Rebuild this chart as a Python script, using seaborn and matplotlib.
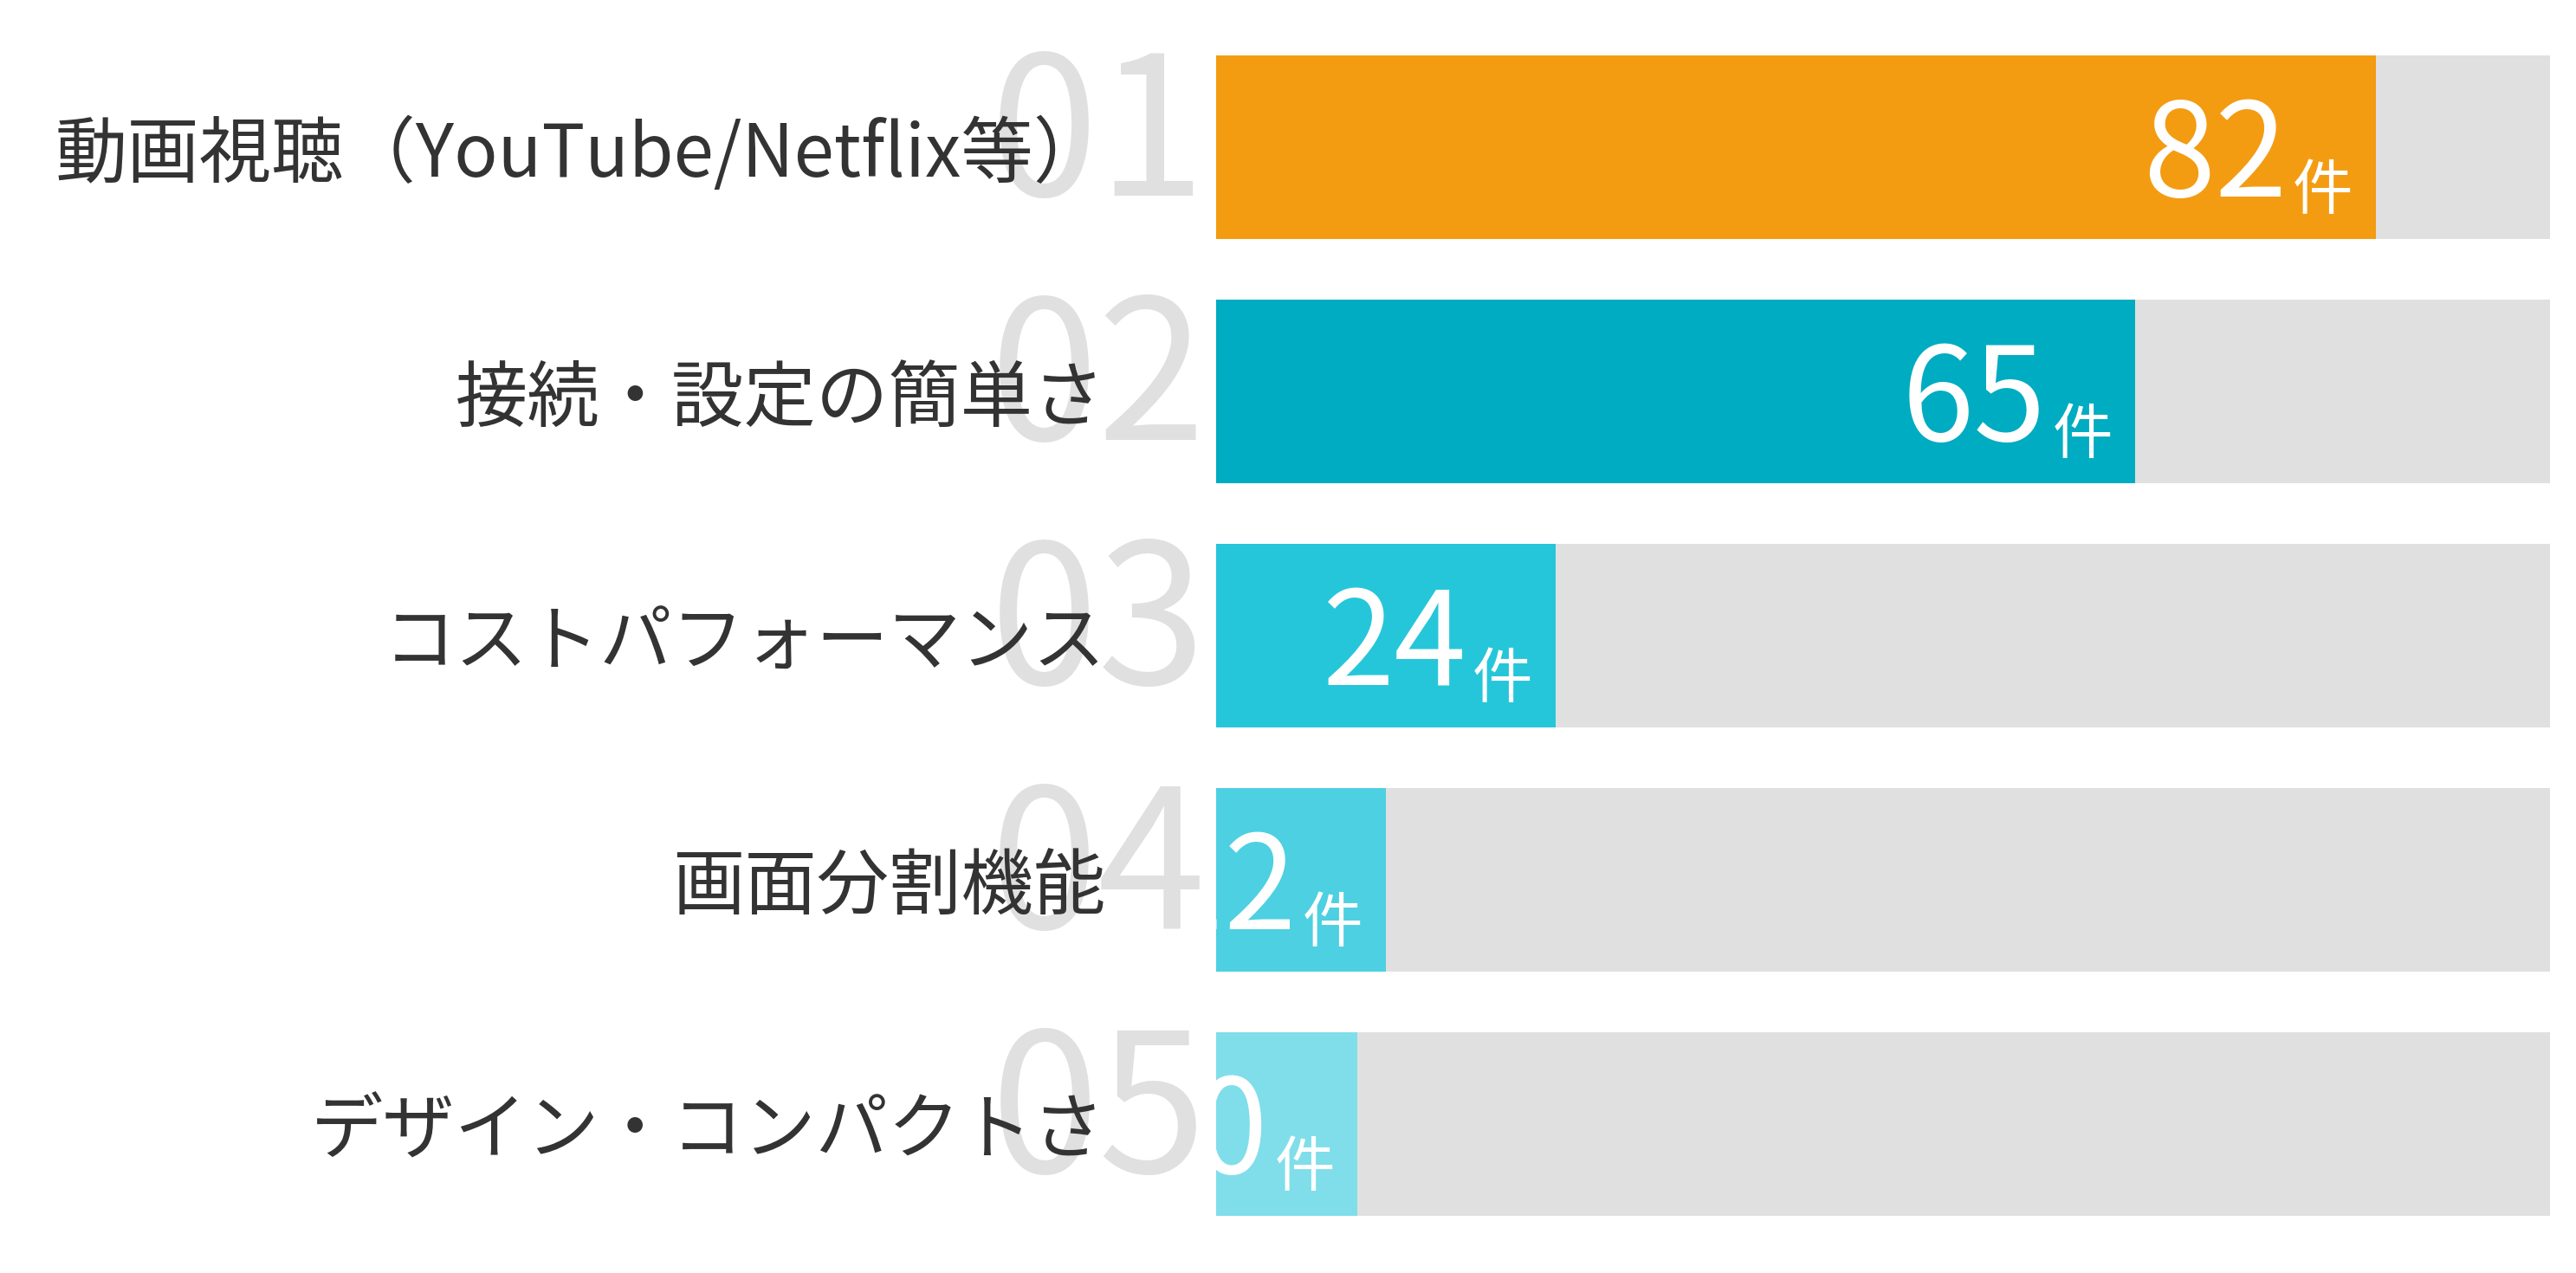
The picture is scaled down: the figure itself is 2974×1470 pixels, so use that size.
import matplotlib
matplotlib.use("Agg")
import matplotlib.pyplot as plt
import seaborn as sns
import pandas as pd

# data
categories = ['動画視聴（YouTube/Netflix等）', '接続・設定の簡単さ', 'コストパフォーマンス',
              '画面分割機能', 'デザイン・コンパクトさ']
counts = [82, 65, 24, 12, 10]
ranks = ['01', '02', '03', '04', '05']
unit = '件'
bar_colors = ['#F39C12', '#00ACC1', '#26C6DA', '#4DD0E1', '#80DEEA']

sns.set_theme(style='white')
plt.rcParams['font.family'] = ['Noto Sans CJK JP', 'DejaVu Sans']

df = pd.DataFrame({'category': categories, 'count': counts})
scale_max = max(counts) * 1.15
df['track'] = scale_max

fig = plt.figure(figsize=(14.87, 7.35), dpi=200)
ax = fig.add_axes([0.4721, 0.0211, 0.5178, 0.9592])

# gray track behind every bar, then the coloured bars
sns.barplot(data=df, x='track', y='category', color='#E0E0E0', width=0.75,
            saturation=1, linewidth=0, ax=ax)
sns.barplot(data=df, x='count', y='category', hue='category', palette=bar_colors,
            width=0.75, saturation=1, linewidth=0, legend=False, ax=ax)

ax.set_xlim(0, scale_max)
ax.set_ylim(4.5, -0.5)
ax.set_xticks([])
ax.set_xlabel('')
ax.set_ylabel('')
ax.set_axisbelow(True)
ax.tick_params(axis='y', length=0, pad=46, labelsize=30, labelcolor='#333333')
sns.despine(ax=ax, left=True, bottom=True)

# big light rank numbers behind the labels
for i, r in enumerate(ranks):
    ax.annotate(r, xy=(0, i), xycoords=ax.get_yaxis_transform(),
                xytext=(-4, -20), textcoords='offset points',
                ha='right', va='baseline', fontsize=81,
                color='#E0E0E0', zorder=0.2, annotation_clip=False)

# value labels inside the bar end, clipped to the plot area
for i, v in enumerate(counts):
    ax.annotate(str(v), xy=(v, i), xytext=(-37, -20.5), textcoords='offset points',
                ha='right', va='baseline', fontsize=54, color='white', clip_on=True)
    ax.annotate(unit, xy=(v, i), xytext=(-9.5, -25.5), textcoords='offset points',
                ha='right', va='baseline', fontsize=25, color='white', clip_on=True)

fig.savefig('out.png', dpi=200, facecolor='white')
